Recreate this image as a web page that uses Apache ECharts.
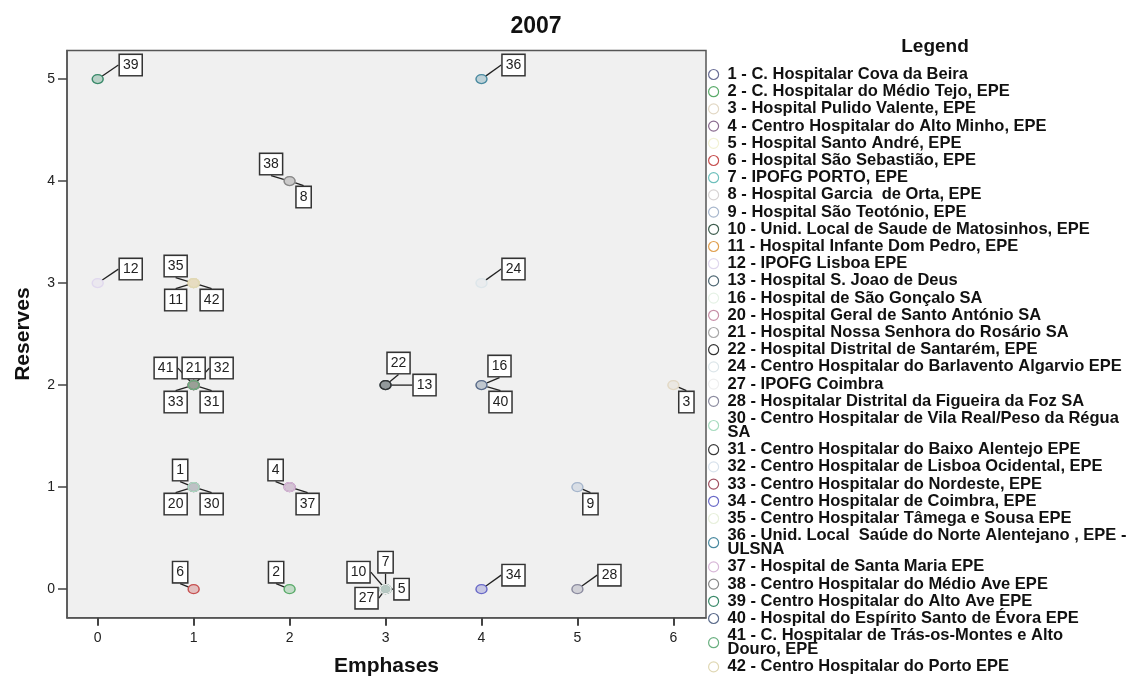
<!DOCTYPE html>
<html>
<head>
<meta charset="utf-8">
<script src="https://cdn.jsdelivr.net/npm/echarts@6/dist/echarts.min.js"></script>
<style>
html,body{margin:0;padding:0;background:#fff;}
#chart{width:1130px;height:677px;}
</style>
</head>
<body>
<div id="chart"></div>
<script>
// ---- data ----
var hospitalIds = [1,2,3,4,5,6,7,8,9,10,11,12,13,16,20,21,22,24,27,28,30,31,32,33,34,35,36,37,38,39,40,41,42];
var hospitalNames = [
  "1 - C. Hospitalar Cova da Beira",
  "2 - C. Hospitalar do Médio Tejo, EPE",
  "3 - Hospital Pulido Valente, EPE",
  "4 - Centro Hospitalar do Alto Minho, EPE",
  "5 - Hospital Santo André, EPE",
  "6 - Hospital São Sebastião, EPE",
  "7 - IPOFG PORTO, EPE",
  "8 - Hospital Garcia  de Orta, EPE",
  "9 - Hospital São Teotónio, EPE",
  "10 - Unid. Local de Saude de Matosinhos, EPE",
  "11 - Hospital Infante Dom Pedro, EPE",
  "12 - IPOFG Lisboa EPE",
  "13 - Hospital S. Joao de Deus",
  "16 - Hospital de São Gonçalo SA",
  "20 - Hospital Geral de Santo António SA",
  "21 - Hospital Nossa Senhora do Rosário SA",
  "22 - Hospital Distrital de Santarém, EPE",
  "24 - Centro Hospitalar do Barlavento Algarvio EPE",
  "27 - IPOFG Coimbra",
  "28 - Hospitalar Distrital da Figueira da Foz SA",
  "30 - Centro Hospitalar de Vila Real/Peso da Régua\nSA",
  "31 - Centro Hospitalar do Baixo Alentejo EPE",
  "32 - Centro Hospitalar de Lisboa Ocidental, EPE",
  "33 - Centro Hospitalar do Nordeste, EPE",
  "34 - Centro Hospitalar de Coimbra, EPE",
  "35 - Centro Hospitalar Tâmega e Sousa EPE",
  "36 - Unid. Local  Saúde do Norte Alentejano , EPE -\nULSNA",
  "37 - Hospital de Santa Maria EPE",
  "38 - Centro Hospitalar do Médio Ave EPE",
  "39 - Centro Hospitalar do Alto Ave EPE",
  "40 - Hospital do Espírito Santo de Évora EPE",
  "41 - C. Hospitalar de Trás-os-Montes e Alto\nDouro, EPE",
  "42 - Centro Hospitalar do Porto EPE"
];
var emphases = [1,2,6,2,3,1,3,2,5,3,1,0,3,4,1,1,3,4,3,5,1,1,1,1,4,1,4,2,2,0,4,1,1];
var reserves = [1,0,2,1,0,0,0,4,1,0,3,3,2,2,1,2,2,3,0,0,1,2,2,2,0,3,5,1,4,5,2,2,3];
var xTicks = [0,1,2,3,4,5,6];
var yTicks = [0,1,2,3,4,5];

// ---- styles ----
var colors = ["#6a6e96","#5aab6a","#e2d8c4","#8a6b8f","#f2f2d4","#c75050","#6fc0bd","#d8d4d4","#a6b6cc","#3f5e4f","#e0a050","#e0d8ee","#4d6672","#e6f2e6","#c890a8","#a8a8a8","#333333","#dde6ea","#efefef","#8c8ca0","#a8dcc0","#3a3a3a","#d8e2ec","#a05060","#6a6ac8","#e8f0dc","#4a8aa0","#d8b8d8","#888888","#3a8a6a","#5a6a8a","#6ab080","#e0d8b4"];
var labelOffsets = [[-13.5,-17],[-13.5,-17],[13,17],[-14,-17],[16,0],[-13.5,-17],[0,-27],[14,16],[13,17],[-27,-17],[-18,17],[33,-14],[39,0],[18,-19],[-18,17],[0,-17],[13,-22],[32,-14],[-19,9],[32,-14],[18,17],[18,17],[28,-17],[-18,17],[32,-14],[-18,-17],[32,-14],[18,17],[-18.5,-17],[33,-14],[19,17],[-28,-17],[18,17]];
var FONT = 'Liberation Sans, Arial, sans-serif';

function tint(hex, a){
  var r=parseInt(hex.substr(1,2),16), g=parseInt(hex.substr(3,2),16), b=parseInt(hex.substr(5,2),16);
  return 'rgba('+r+','+g+','+b+','+a+')';
}

var series = hospitalIds.map(function(id, i){
  return {
    type: 'scatter',
    name: hospitalNames[i],
    data: [[emphases[i], reserves[i]]],
    symbol: 'circle',
    symbolSize: [11, 9],
    itemStyle: { color: tint(colors[i], 0.3), borderColor: colors[i], borderWidth: 1.3, opacity: 1 },
    label: {
      show: true,
      position: 'inside',
      formatter: String(id),
      color: '#222',
      fontSize: 14,
      lineHeight: 15,
      fontFamily: FONT,
      backgroundColor: '#fff',
      borderColor: '#333',
      borderWidth: 1.5,
      padding: [3, 3, 2, 3],
      textBorderWidth: 0
    },
    labelLine: { show: true, lineStyle: { color: '#222', width: 1.3 } },
    labelLayout: function(p){
      var off = labelOffsets[p.seriesIndex];
      return {
        x: p.rect.x + p.rect.width/2 + off[0],
        y: p.rect.y + p.rect.height/2 + off[1],
        align: 'center',
        verticalAlign: 'middle'
      };
    },
    emphasis: { disabled: true },
    z: 3
  };
});

var chart = echarts.init(document.getElementById('chart'));
chart.setOption({
  animation: false,
  backgroundColor: '#fff',
  title: [
    { text: '2007', left: 531, top: 10, textAlign: 'center',
      textStyle: { fontSize: 23, fontWeight: 'bold', color: '#111', fontFamily: FONT } },
    { text: 'Legend', left: 930, top: 32, textAlign: 'center',
      textStyle: { fontSize: 19, fontWeight: 'bold', color: '#111', fontFamily: FONT } }
  ],
  legend: {
    orient: 'vertical',
    left: 708,
    top: 66,
    height: 700,
    padding: 0,
    itemGap: 0.2,
    itemWidth: 18,
    itemHeight: 10,
    icon: 'circle',
    selectedMode: false,
    data: hospitalNames,
    itemStyle: { color: '#fff', borderWidth: 1.2 },
    textStyle: { fontSize: 16.5, fontWeight: 'bold', color: '#111', lineHeight: 14, fontFamily: FONT }
  },
  grid: {
    left: 67, top: 50.5, right: 424, bottom: 59.3,
    outerBoundsMode: 'none',
    containLabel: false,
    show: true, backgroundColor: '#f0f0f0', borderColor: '#555', borderWidth: 1.5
  },
  xAxis: {
    type: 'value', min: -0.32, max: 6.34,
    name: 'Emphases', nameLocation: 'middle', nameGap: 38,
    nameTextStyle: { fontSize: 21, fontWeight: 'bold', color: '#111', fontFamily: FONT },
    axisLine: { show: true, onZero: false, lineStyle: { color: '#555', width: 1.5 } },
    axisTick: { show: true, length: 8, customValues: xTicks, lineStyle: { color: '#444', width: 2 } },
    axisLabel: { customValues: xTicks, margin: 13, fontSize: 14, color: '#222', fontFamily: FONT },
    splitLine: { show: false }
  },
  yAxis: {
    type: 'value', min: -0.28, max: 5.28,
    name: 'Reserves', nameLocation: 'middle', nameGap: 33,
    nameTextStyle: { fontSize: 21, fontWeight: 'bold', color: '#111', fontFamily: FONT },
    axisLine: { show: true, onZero: false, lineStyle: { color: '#555', width: 1.5 } },
    axisTick: { show: true, length: 9, customValues: yTicks, lineStyle: { color: '#444', width: 1.5 } },
    axisLabel: { customValues: yTicks, margin: 12, fontSize: 14, color: '#222', fontFamily: FONT },
    splitLine: { show: false }
  },
  series: series
});
</script>
</body>
</html>
